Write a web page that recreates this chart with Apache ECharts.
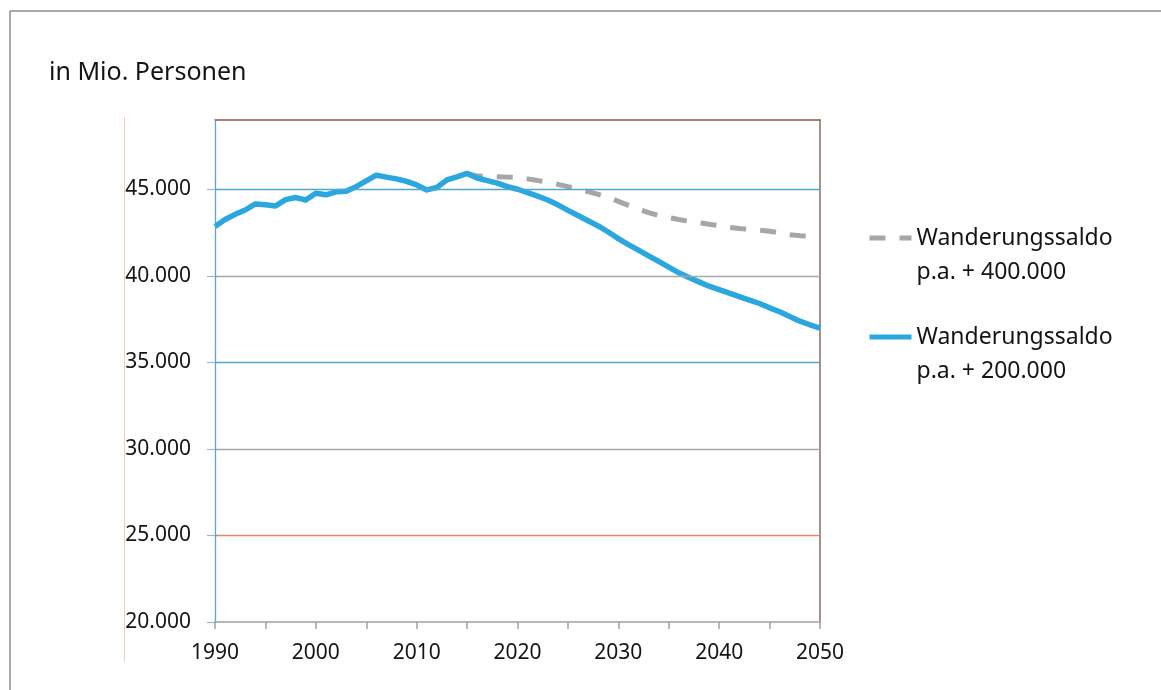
<!DOCTYPE html>
<html>
<head>
<meta charset="utf-8">
<script src="https://cdn.jsdelivr.net/npm/echarts@6/dist/echarts.min.js"></script>
<style>
  html, body { margin: 0; padding: 0; background: #ffffff; }
  #chart { width: 1161px; height: 690px; }
</style>
</head>
<body>
<div id="chart"></div>
<script>
// Erwerbspersonen in Deutschland 1990–2050, zwei Wanderungsszenarien
const years = [];
for (let y = 1990; y <= 2050; y++) years.push(y);

// Szenario Wanderungssaldo p.a. + 200.000 (1990–2050)
const saldo200 = [
  42850, 43250, 43550, 43800, 44150, 44100, 44030, 44400, 44520, 44380,
  44770, 44680, 44850, 44880, 45150, 45480, 45810, 45700, 45600, 45450,
  45250, 44960, 45100, 45540, 45720, 45910, 45650, 45500, 45350, 45150,
  45000, 44800, 44600, 44380, 44100, 43780, 43480, 43180, 42880, 42530,
  42150, 41800, 41480, 41150, 40830, 40500, 40170, 39900, 39650, 39400,
  39200, 39000, 38800, 38600, 38400, 38150, 37920, 37650, 37380, 37170,
  36980
];

// Szenario Wanderungssaldo p.a. + 400.000 (ab 2015)
const years400 = years.filter(y => y >= 2015);
const saldo400 = [
  45910, 45760, 45740, 45720, 45700, 45680, 45600, 45500, 45400, 45280,
  45150, 45020, 44870, 44700, 44530, 44300, 44070, 43850, 43650, 43480,
  43360, 43250, 43150, 43060, 42980, 42900, 42790, 42730, 42680, 42640,
  42570, 42480, 42370, 42320, 42280, 42220
];

// Beschriftete Werte der y-Achse und farbige Hilfslinien
const yTicks = [20000, 25000, 30000, 35000, 40000, 45000];
const gridLines = [25000, 30000, 35000, 40000, 45000];
const gridColors = ['#e0876c', '#a9a6a4', '#4ea6d4', '#a9a6a4', '#4ea6d4'];

const seriesNames = ['Wanderungssaldo p.a. + 400.000', 'Wanderungssaldo p.a. + 200.000'];
const titleText = 'in Mio. Personen';

const FONT = 'Noto Sans';
const BLUE = '#29a7de';
const GREY = '#a6a6a6';
const FRAME_TOP = '#8e5848';
const FRAME_RIGHT = '#8c7570';

function fmtThousands(v) {
  const k = Math.floor(v / 1000);
  const r = String(v % 1000).padStart(3, '0');
  return k + '.' + r;
}

const chart = echarts.init(document.getElementById('chart'), null, { renderer: 'canvas' });

chart.setOption({
  backgroundColor: '#ffffff',
  animation: false,
  title: {
    text: titleText,
    left: 44,
    top: 55,
    textStyle: { fontFamily: FONT, fontSize: 25, fontWeight: 'normal', color: '#141414' }
  },
  graphic: [
    // Rahmen oben und links
    { type: 'line', silent: true, shape: { x1: 10, y1: 11, x2: 1161, y2: 11 },
      style: { stroke: '#8e8e8e', lineWidth: 1.5 } },
    { type: 'line', silent: true, shape: { x1: 10, y1: 11, x2: 10, y2: 690 },
      style: { stroke: '#8e8e8e', lineWidth: 1.5 } },
    // feine Linie am linken Rand der Diagrammfläche
    { type: 'line', silent: true, shape: { x1: 124.5, y1: 117, x2: 124.5, y2: 662 },
      style: { stroke: '#f6c9b9', lineWidth: 1 } }
  ],
  legend: {
    orient: 'vertical',
    left: 867,
    top: 187,
    padding: 0,
    itemGap: -3,
    itemWidth: 42,
    itemHeight: 14,
    data: seriesNames,
    selectedMode: false,
    itemStyle: { opacity: 0 },
    lineStyle: { width: 5 },
    formatter: name => '\n' + name.replace(' p.a.', '\np.a.'),
    textStyle: { fontFamily: FONT, fontSize: 23, color: '#141414', lineHeight: 34 }
  },
  grid: {
    left: 215,
    right: 341,
    top: 120,
    bottom: 68
  },
  xAxis: [
    {
      type: 'value',
      min: 1990,
      max: 2050,
      interval: 5,
      axisLine: { show: true, lineStyle: { color: '#a3a3a3', width: 1.5 } },
      axisTick: { show: true, inside: false, length: 7, lineStyle: { color: '#a3a3a3', width: 1.5 } },
      axisLabel: {
        margin: 21,
        fontFamily: FONT,
        fontSize: 21,
        color: '#141414',
        formatter: v => (v % 10 === 0 ? String(v) : '')
      },
      splitLine: { show: false }
    },
    {
      // obere Begrenzung der Zeichenfläche
      type: 'value',
      position: 'top',
      min: 1990,
      max: 2050,
      axisLine: { show: true, onZero: false, lineStyle: { color: FRAME_TOP, width: 1.6 } },
      axisTick: { show: false },
      axisLabel: { show: false },
      splitLine: { show: false }
    }
  ],
  yAxis: [
    {
      type: 'value',
      min: 20000,
      max: 49000,
      interval: 5000,
      z: 5,
      axisLine: { show: true, onZero: false, lineStyle: { color: '#5aa6cf', width: 1.3 } },
      axisTick: { show: true, inside: false, length: 8, customValues: yTicks,
        lineStyle: { color: '#9fb2bd', width: 1.2 } },
      axisLabel: {
        margin: 24,
        fontFamily: FONT,
        fontSize: 21,
        color: '#141414',
        customValues: yTicks,
        formatter: v => (v > 45000 ? '' : fmtThousands(v))
      },
      splitLine: { show: false }
    },
    {
      // rechte Begrenzung der Zeichenfläche
      type: 'value',
      position: 'right',
      min: 20000,
      max: 49000,
      axisLine: { show: true, onZero: false, lineStyle: { color: FRAME_RIGHT, width: 1.6 } },
      axisTick: { show: false },
      axisLabel: { show: false },
      splitLine: { show: false }
    }
  ],
  series: [
    {
      // Hilfslinien des Rasters in eigenen Farben
      type: 'line',
      data: [],
      silent: true,
      z: 1,
      markLine: {
        silent: true,
        symbol: 'none',
        label: { show: false },
        animation: false,
        data: gridLines.map((v, i) => ({
          yAxis: v,
          lineStyle: { color: gridColors[i], width: 1.4, type: 'solid' }
        }))
      }
    },
    {
      name: seriesNames[0],
      type: 'line',
      symbol: 'none',
      data: years400.map((y, i) => [y, saldo400[i]]),
      lineStyle: { color: GREY, width: 5, type: [16, 14], cap: 'butt' },
      itemStyle: { color: GREY },
      z: 2
    },
    {
      name: seriesNames[1],
      type: 'line',
      symbol: 'none',
      data: years.map((y, i) => [y, saldo200[i]]),
      lineStyle: { color: BLUE, width: 5.5, join: 'round' },
      itemStyle: { color: BLUE },
      z: 3
    }
  ]
});
</script>
</body>
</html>
